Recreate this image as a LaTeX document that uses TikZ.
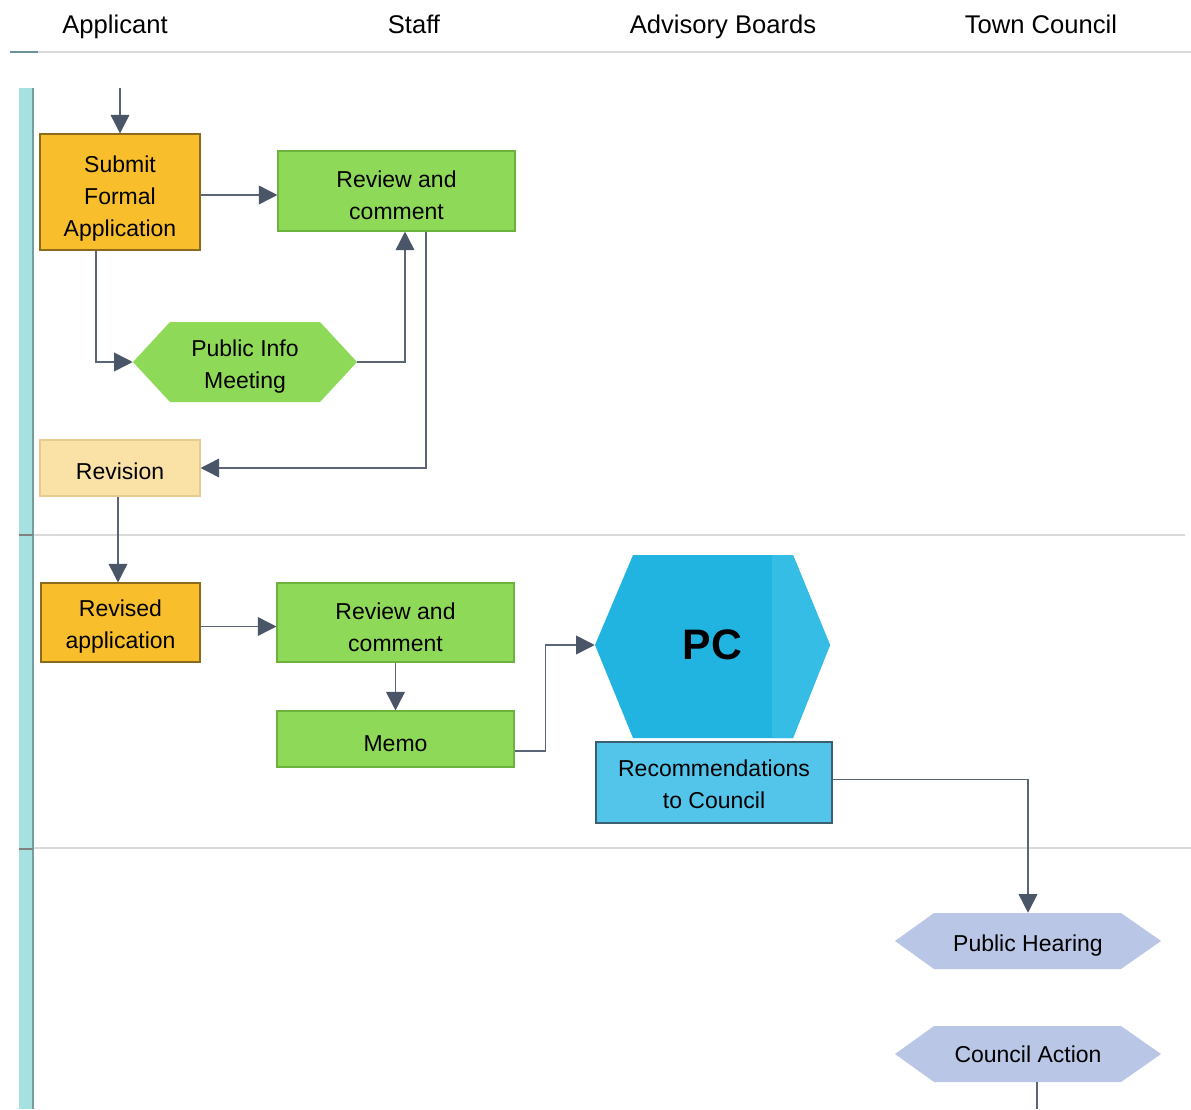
\documentclass[tikz,border=0pt]{standalone}
\usepackage{fontspec}
\setmainfont{Liberation Sans}
\usetikzlibrary{arrows.meta,calc}
\definecolor{orangeF}{HTML}{F9BE2B}
\definecolor{orangeD}{HTML}{8C6A1E}
\definecolor{greenF}{HTML}{8ED957}
\definecolor{greenD}{HTML}{6BB33D}
\definecolor{paleF}{HTML}{FAE2A6}
\definecolor{paleD}{HTML}{E5CB8E}
\definecolor{pcF}{HTML}{21B4E0}
\definecolor{pcL}{HTML}{35BDE5}
\definecolor{recF}{HTML}{53C5EA}
\definecolor{recD}{HTML}{3D5F72}
\definecolor{lavF}{HTML}{BAC6E6}
\definecolor{tealF}{HTML}{A6E1E2}
\definecolor{lineC}{HTML}{5B6577}
\definecolor{tipC}{HTML}{4A5568}
\definecolor{sepC}{HTML}{DADADA}
\newcommand\lowr[1]{\rule{0pt}{#1}}
\begin{document}
\begin{tikzpicture}[x=0.75pt,y=-0.75pt,
  every node/.style={font=\fontsize{17.25}{24}\selectfont, text=black, align=center, inner sep=0pt},
  hdr/.style={font=\fontsize{19.2}{24}\selectfont, anchor=base},
  box/.style={draw, line width=0.8pt, rectangle},
  orangebox/.style={box, fill=orangeF, draw=orangeD},
  greenbox/.style={box, fill=greenF, draw=greenD},
  palebox/.style={box, fill=paleF, draw=paleD},
  recbox/.style={box, fill=recF, draw=recD},
  hexlabel/.style={rectangle},
  conn/.style={draw=lineC, line width=1.2pt, -{Triangle[length=14pt,width=14pt,color=tipC]}},
  plain/.style={draw=lineC, line width=1.2pt}
]
\useasboundingbox (0,0) rectangle (1191,1109);
\fill[white] (0,0) rectangle (1191,1109);

% headers
\node[hdr] (hA) at (115,34) {Applicant};
\node[hdr] (hS) at (414,34) {Staff};
\node[hdr] (hB) at (723,34) {Advisory Boards};
\node[hdr] (hT) at (1041,34) {Town Council};
\draw[sepC, line width=1.5pt] (10,52) -- (1191,52);
\draw[black!35!tealF, line width=1.5pt] (10,52) -- (38,52);

% lanes
\draw[sepC, line width=1.3pt] (33,535) -- (1185,535);
\draw[sepC, line width=1.3pt] (33,848) -- (1191,848);
\fill[tealF] (19,88) rectangle (33,1109);
\draw[black!30!tealF, line width=1.2pt] (33,88) -- (33,1109);
\draw[gray, line width=2pt] (19,535) -- (33,535);
\draw[gray, line width=2pt] (19,849) -- (33,849);

% hexagon shapes
\fill[greenF] (133,362) -- (170,322) -- (320,322) -- (357,362) -- (320,402) -- (170,402) -- cycle;
\fill[pcF] (595,645) -- (633,555) -- (793,555) -- (830,645) -- (793,738) -- (633,738) -- cycle;
\begin{scope}
\clip (772,540) rectangle (840,750);
\fill[pcL] (595,645) -- (633,555) -- (793,555) -- (830,645) -- (793,738) -- (633,738) -- cycle;
\end{scope}
\fill[lavF] (895,941) -- (934,913) -- (1121,913) -- (1161,941) -- (1121,969) -- (934,969) -- cycle;
\fill[lavF] (895,1054) -- (934,1026) -- (1121,1026) -- (1161,1054) -- (1121,1082) -- (934,1082) -- cycle;

% nodes
\node[orangebox, minimum width=160*0.75pt, minimum height=116*0.75pt] (submit) at (120,192) {\lowr{23pt}Submit\\Formal\\Application};
\node[greenbox, minimum width=237*0.75pt, minimum height=80*0.75pt] (rev1) at (396.5,191) {\lowr{18.6pt}Review and\\comment};
\node[hexlabel, minimum width=224*0.75pt, minimum height=80*0.75pt] (pim) at (245,362) {\lowr{18.6pt}Public Info\\Meeting};
\node[palebox, minimum width=160*0.75pt, minimum height=56*0.75pt] (revision) at (120,468) {\lowr{17.1pt}Revision};
\node[orangebox, minimum width=159*0.75pt, minimum height=79*0.75pt] (revised) at (120.5,622.5) {\lowr{18.6pt}Revised\\application};
\node[greenbox, minimum width=237*0.75pt, minimum height=79*0.75pt] (rev2) at (395.5,622.5) {\lowr{20.1pt}Review and\\comment};
\node[greenbox, minimum width=237*0.75pt, minimum height=56*0.75pt] (memo) at (395.5,739) {\lowr{18.6pt}Memo};
\node[hexlabel, minimum width=235*0.75pt, minimum height=183*0.75pt, font=\fontsize{32}{36}\selectfont\bfseries] (pc) at (712.5,645) {PC};
\node[recbox, minimum width=236*0.75pt, minimum height=81*0.75pt] (rec) at (714,782.5) {\lowr{15.6pt}Recommendations\\to Council};
\node[hexlabel, minimum width=266*0.75pt, minimum height=56*0.75pt] (ph) at (1028,941) {\lowr{18.6pt}Public Hearing};
\node[hexlabel, minimum width=266*0.75pt, minimum height=56*0.75pt] (ca) at (1028,1054) {Council Action};

% connector ends
\coordinate (start) at (120,88);
\coordinate (bottomend) at (1037,1109);

% connectors
\draw[conn] (start) -- (submit.north);
\draw[conn] ($(submit.east)+(0,3)$) -- ($(rev1.west)+(0,4)$);
\draw[conn] ($(submit.south)+(-24,0)$) |- (pim.west);
\draw[conn] (pim.east) -| ($(rev1.south)+(8.5,0)$);
\draw[conn] ($(rev1.south)+(29.5,0)$) |- (revision.east);
\draw[conn] ($(revision.south)+(-2,0)$) -- ($(revised.north)+(-2.5,0)$);
\draw[conn] ($(revised.east)+(0,4)$) -- ($(rev2.west)+(0,4)$);
\draw[conn] (rev2.south) -- (memo.north);
\draw[conn] ($(memo.east)+(0,12)$) -- ++(31,0) |- (pc.west);
\draw[conn] ($(rec.east)+(0,-3)$) -| (ph.north);
\draw[plain] ($(ca.south)+(9,0)$) -- (bottomend);
\end{tikzpicture}
\end{document}
